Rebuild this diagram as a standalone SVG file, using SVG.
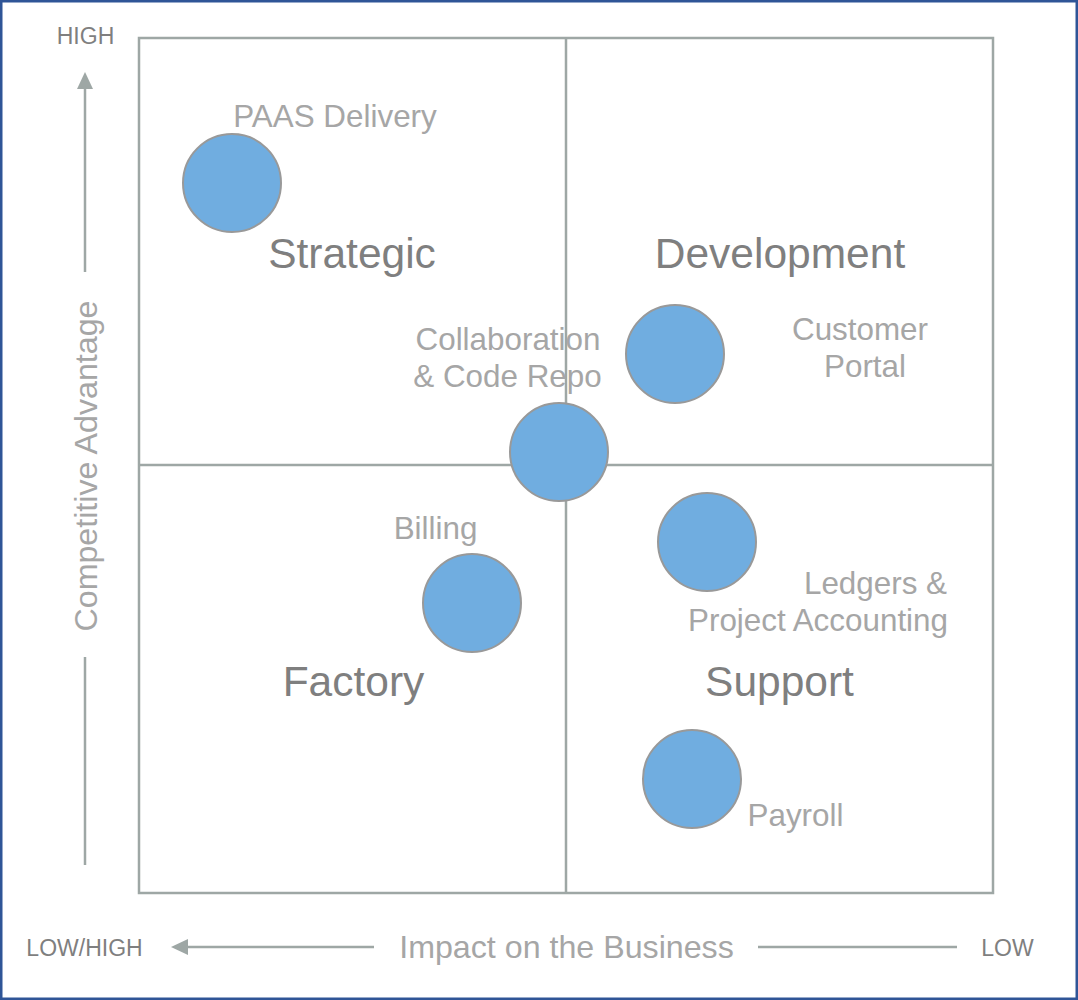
<svg xmlns="http://www.w3.org/2000/svg" width="1078" height="1000" viewBox="0 0 1078 1000">
<defs>
<style>
.frame{fill:#fff;stroke:#2F5597;stroke-width:2.5}
.grid{fill:none;stroke:#9EA7A5;stroke-width:2.5}
.axis{fill:none;stroke:#9EA7A5;stroke-width:2.5}
.head{fill:#9EA7A5}
.bub{fill:#70ADE0;stroke:#999;stroke-width:2}
.q{font-family:"Liberation Sans",Arial,sans-serif;font-size:42.5px;fill:#7F7F7F;text-anchor:middle}
.lbl{font-family:"Liberation Sans",Arial,sans-serif;font-size:31.4px;fill:#A6A6A6;text-anchor:middle}
.ax{font-family:"Liberation Sans",Arial,sans-serif;font-size:32.2px;fill:#A6A6A6;text-anchor:middle}
.corner{font-family:"Liberation Sans",Arial,sans-serif;font-size:23px;fill:#7F7F7F;text-anchor:middle}
</style>
</defs>
<rect class="frame" x="1.25" y="1.25" width="1075.5" height="997.5"/>
<g id="grid">
<rect class="grid" x="139" y="38" width="854" height="855"/>
<line class="grid" x1="566" y1="38" x2="566" y2="893"/>
<line class="grid" x1="139" y1="465" x2="993" y2="465"/>
</g>
<g id="connectors">
<line class="axis" x1="85" y1="272" x2="85" y2="86"/>
<polygon class="head" points="85,72 93,89 77,89"/>
<line class="axis" x1="85" y1="657" x2="85" y2="865"/>
<line class="axis" x1="374" y1="947" x2="185" y2="947"/>
<polygon class="head" points="171,947 188,939 188,955"/>
<line class="axis" x1="758" y1="947" x2="957" y2="947"/>
</g>
<g id="axis-labels">
<text class="corner" x="85.5" y="44">HIGH</text>
<text class="corner" x="84.5" y="956">LOW/HIGH</text>
<text class="corner" x="1007.5" y="956">LOW</text>
<text class="ax" x="566.5" y="958">Impact on the Business</text>
<text class="ax" transform="translate(97,466) rotate(-90)">Competitive Advantage</text>
</g>
<g id="quadrants">
<text class="q" x="352" y="268">Strategic</text>
<text class="q" x="780" y="268">Development</text>
<text class="q" x="353.5" y="696">Factory</text>
<text class="q" x="779.5" y="696">Support</text>
</g>
<g id="paas">
<circle class="bub" cx="232" cy="183" r="49"/>
<text class="lbl" x="335" y="127">PAAS Delivery</text>
</g>
<g id="customer-portal">
<circle class="bub" cx="675" cy="354" r="49"/>
<text class="lbl" x="860" y="340">Customer</text>
<text class="lbl" x="865" y="377">Portal</text>
</g>
<g id="collaboration">
<circle class="bub" cx="559" cy="452" r="49"/>
<text class="lbl" x="508" y="350">Collaboration</text>
<text class="lbl" x="507.5" y="387">&amp; Code Repo</text>
</g>
<g id="ledgers">
<circle class="bub" cx="707" cy="542" r="49"/>
<text class="lbl" x="875.5" y="594">Ledgers &amp;</text>
<text class="lbl" x="818" y="631">Project Accounting</text>
</g>
<g id="billing">
<circle class="bub" cx="472" cy="603" r="49"/>
<text class="lbl" x="435.5" y="539">Billing</text>
</g>
<g id="payroll">
<circle class="bub" cx="692" cy="779" r="49"/>
<text class="lbl" x="795.5" y="826">Payroll</text>
</g>
</svg>
